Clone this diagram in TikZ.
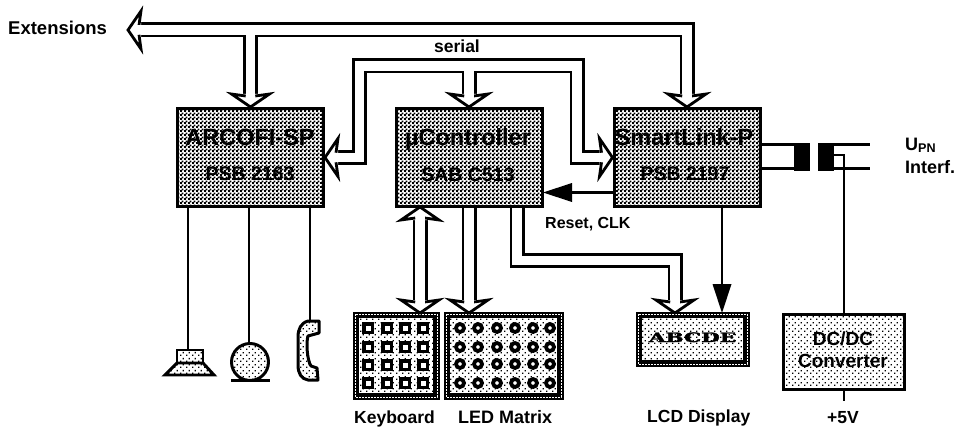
\documentclass[tikz,border=0pt]{standalone}
\usepackage{fontspec}
\setmainfont{Liberation Sans}
\newfontfamily\lcdfont[FakeBold=2]{DejaVu Serif Bold}
\usetikzlibrary{patterns,calc}
\pgfdeclarepatternformonly{chk}{\pgfqpoint{0pt}{0pt}}{\pgfqpoint{4pt}{4pt}}{\pgfqpoint{4pt}{4pt}}{%
  \pgfpathrectangle{\pgfqpoint{0pt}{0pt}}{\pgfqpoint{2.3pt}{2.3pt}}%
  \pgfpathrectangle{\pgfqpoint{2pt}{2pt}}{\pgfqpoint{2.3pt}{2.3pt}}\pgfusepath{fill}}
\pgfdeclarepatternformonly{sparse}{\pgfqpoint{0pt}{0pt}}{\pgfqpoint{6pt}{6pt}}{\pgfqpoint{6pt}{6pt}}{%
  \pgfpathrectangle{\pgfqpoint{0pt}{0pt}}{\pgfqpoint{1.5pt}{1.5pt}}%
  \pgfpathrectangle{\pgfqpoint{3pt}{3pt}}{\pgfqpoint{1.5pt}{1.5pt}}\pgfusepath{fill}}
\newcommand{\lbl}[1]{\fontsize{#1}{#1}\selectfont\bfseries}
\tikzset{
  wire/.style={line width=2.95pt},
  mainbox/.style={draw,line width=3pt,pattern=chk,minimum width=146pt,minimum height=98pt,inner sep=0pt},
  dotbox/.style={draw,line width=3pt,pattern=sparse,inner sep=0pt},
  panel/.style={draw,line width=3pt,inner sep=0pt},
  txt/.style={inner sep=0pt,anchor=base,font=\lbl{16}},
  bushead/.pic={
    \fill[white] (-19,-13) -- (19,-13) -- (0,0) -- cycle;
    \draw[line width=2.8pt,line join=miter] (-4.8,-11) -- (-19,-13) -- (0,0) -- (19,-13) -- (4.8,-11);
    \fill[white] (-4.5,-15) rectangle (4.5,-9);
  },
  solidhead/.pic={\fill (-9.5,-29) -- (9.5,-29) -- (0,0) -- cycle;}
}
\begin{document}
\begin{tikzpicture}[x=1pt,y=-1pt]
\useasboundingbox (0,0) rectangle (959,428);
% block nodes
\node[mainbox] (arcofi) at (250.5,157.5) {};
\node[mainbox] (uc) at (469,157.5) {};
\node[mainbox] (smart) at (687,157.5) {};
\node[dotbox,minimum width=121pt,minimum height=75pt] (dcdc) at (844,351.5) {};
\node[panel,minimum width=84pt,minimum height=85pt] (keys) at (396,355.5) {};
\node[panel,minimum width=117pt,minimum height=85pt] (leds) at (503.5,355.5) {};
\node[panel,minimum width=111pt,minimum height=52pt] (lcd) at (692.5,339) {};
% panel interiors
\foreach \n in {keys,leds,lcd}{
  \draw[line width=3pt,pattern=sparse] ($(\n.north west)+(5,5)$) rectangle ($(\n.south east)+(-5,-5)$);
  \draw[line width=2.2pt] ($(\n.north west)+(2.5,2.5)$) rectangle ($(\n.south east)+(-2.5,-2.5)$);
  \draw[line width=.8pt,white,dash pattern=on 2pt off 1pt] ($(\n.north west)+(2.5,2.5)$) rectangle ($(\n.south east)+(-2.5,-2.5)$);
}
\foreach \x in {368,387,405,423}\foreach \y in {328,347,365,383}{
  \draw[line width=3.4pt,fill=white] (\x-4.2,\y-4.2) rectangle (\x+4.2,\y+4.2);
}
\foreach \x in {460,478,497,515,533,550}\foreach \y in {328,347,364,383}{
  \draw[line width=3.8pt,fill=white] (\x,\y) circle (4);
}
% bus routes
\coordinate (extL) at (141,30);
\coordinate (extR) at (687,30);
\coordinate (extA) at (250.5,30);
\coordinate (serL) at (359.5,66);
\coordinate (serR) at (577,66);
\coordinate (serC) at (469,66);
\coordinate (keyT) at (420,217);
\coordinate (keyB) at (420,302);
\coordinate (ledB) at (469,302);
\coordinate (lcdA) at (517,260.5);
\coordinate (lcdB) at (675,260.5);
\coordinate (lcdC) at (675,301);
\foreach \w/\c in {15pt/black,9.4pt/white}{
  \draw[line width=\w,color=\c,line join=miter]
    (extL) -- (extR) -- (687,96)
    (extA) -- (250.5,96)
    (335,157.5) -- (359.5,157.5) -- (serL) -- (serR) -- (577,157.5) -- (602,157.5)
    (serC) -- (469,96)
    (keyT) -- (keyB)
    (uc.south -| ledB) -- (ledB)
    (lcdA |- uc.south) -- (lcdA) -- (lcdB) -- (lcdC);
}
\pic at (arcofi.north) {bushead};
\pic at (uc.north) {bushead};
\pic at (smart.north) {bushead};
\pic[rotate=-90] at (arcofi.east) {bushead};
\pic[rotate=90] at (smart.west) {bushead};
\pic at (420,313) {bushead};
\pic[rotate=180] at (420,207) {bushead};
\pic at (469,313) {bushead};
\pic at (675,313) {bushead};
\pic[rotate=-90] at (128,30) {bushead};
% single wires
\coordinate (spk) at (188,350);
\coordinate (mic) at (249,343);
\coordinate (hs) at (310,322);
\draw[wire] (arcofi.south -| spk) -- (spk);
\draw[wire] (arcofi.south -| mic) -- (mic);
\draw[wire] (arcofi.south -| hs) -- (hs);
\coordinate (rst) at (smart.west |- 0,192.5);
\draw[wire] (rst) -- (570,192.5);
\pic[rotate=-90] at (543,192.5) {solidhead};
\coordinate (lcdTop) at (722,313);
\draw[wire] (smart.south -| lcdTop) -- (722,290);
\pic at (lcdTop) {solidhead};
% transformer
\node[fill=black,minimum width=16pt,minimum height=28pt,inner sep=0pt] (t1) at (802,157) {};
\node[fill=black,minimum width=16pt,minimum height=28pt,inner sep=0pt] (t2) at (826,157) {};
\draw[wire] (smart.east |- 0,144.5) -- (794,144.5);
\draw[wire] (smart.east |- 0,168.5) -- (794,168.5);
\draw[wire] (834,144.5) -- (870,144.5);
\draw[wire] (834,168.5) -- (870,168.5);
\draw[wire] (dcdc.north) -- (844,155) -- (t2.east |- 0,155);
\coordinate (pwr) at (844,401);
\draw[wire] (dcdc.south) -- (pwr);
% speaker, microphone, handset
\draw[wire,pattern=sparse] (177,350) rectangle (203,363);
\draw[wire,pattern=sparse,line join=miter] (177,363) -- (203,363) -- (214,375) -- (165,375) -- cycle;
\draw[wire,pattern=sparse] (250,362) circle (18.5);
\draw[line width=3pt] (231,380) -- (270,380);
\draw[line width=3pt,pattern=sparse,line join=round] (319,321) -- (308,321) .. controls (301,323) and (298,329) .. (298,337) -- (298,365)
  .. controls (298,373) and (301,379) .. (308,380) -- (318,380) -- (317,368) -- (311,366) .. controls (307,360) and (306,342) .. (308,336) -- (319,333) -- cycle;
% labels
\node[txt,font=\lbl{18.5},anchor=base west] (extT) at (8,35) {Extensions};
\node[txt,font=\lbl{17.5}] (serT) at (457,53) {serial};
\node[txt,font=\lbl{23.5}] (n1) at (250,145) {ARCOFI-SP};
\node[txt,font=\lbl{19.5}] (n2) at (250,180) {PSB 2163};
\node[txt,font=\lbl{23.5}] (n3) at (468,145) {µController};
\node[txt,font=\lbl{19.5}] (n4) at (468,181) {SAB C513};
\node[txt,font=\lbl{23.5}] (n5) at (684,145) {SmartLink-P};
\node[txt,font=\lbl{19.5}] (n6) at (685,180) {PSB 2197};
\node[txt,anchor=base west] (rT) at (545,228) {Reset, CLK};
\node[txt,font=\lbl{19}] (n7) at (843,345) {DC/DC};
\node[txt,font=\lbl{19}] (n8) at (843,367) {Converter};
\node[txt,font=\lbl{17.5},anchor=base west] (kT) at (354,423) {Keyboard};
\node[txt,font=\lbl{18},anchor=base west] (lT) at (458,423) {LED Matrix};
\node[txt,font=\lbl{17.5},anchor=base west] (dT) at (647,422) {LCD Display};
\node[txt,font=\lbl{17.5}] (pT) at (843,423) {+5V};
\node[txt,font=\lbl{18},anchor=base west] (uT) at (905,150) {U\textsubscript{PN}};
\node[txt,font=\lbl{18},anchor=base west] (iT) at (905,173) {Interf.};
\node[inner sep=0pt,anchor=base,font=\lcdfont\fontsize{13}{13}\selectfont,xscale=1.65] (abc) at (692.5,342) {ABCDE};
\end{tikzpicture}
\end{document}
